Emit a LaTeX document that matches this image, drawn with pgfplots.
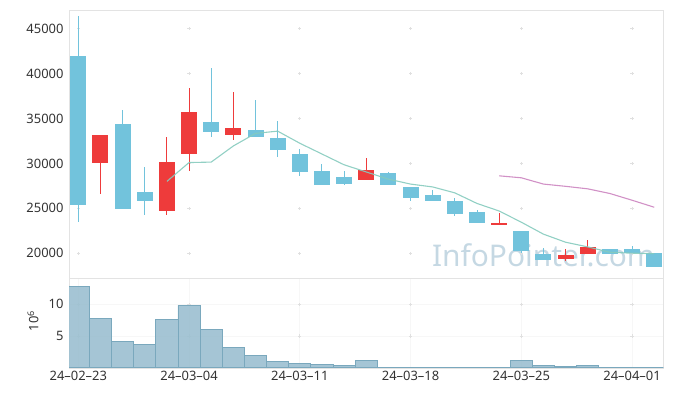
\documentclass[border=0pt]{standalone}
\usepackage{fontspec}
\setmainfont{Noto Sans}
\usepackage{pgfplots}
\usepackage{pgfplotstable}
\pgfplotsset{compat=1.18}
\definecolor{upc}{HTML}{EE3B3B}
\definecolor{dnc}{HTML}{72C3DC}
\definecolor{mafive}{HTML}{86CBBE}
\definecolor{matwenty}{HTML}{CC85C0}
\definecolor{volf}{HTML}{9BBFD0}
\definecolor{vole}{HTML}{7AA8BD}
\definecolor{wm}{HTML}{C5D8E3}
\definecolor{frm}{HTML}{E3E3E3}
\definecolor{lab}{HTML}{333333}

\pgfplotstableread{
x o h l c
1 30100 33200 26600 33200
4 24650 32950 24200 30200
5 31050 38400 29200 35750
7 33200 37950 32650 34000
13 28150 30600 28150 29300
19 23200 24450 23200 23350
22 19350 20450 19150 19850
23 19900 21500 19900 20700
}\up

\pgfplotstableread{
x o h l c
0 42000 46450 23450 25400
2 34400 35950 24950 24950
3 26850 29600 24200 25850
6 34650 40600 33000 33450
8 33750 37100 33000 33000
9 32850 34700 30700 31500
10 31050 31650 28650 29050
11 29150 29950 27550 27550
12 28500 29150 27550 27750
14 28900 29100 27550 27550
15 27400 27400 25850 26200
16 26500 27000 25850 25850
17 25850 26150 24100 24400
18 24600 24850 23400 23400
20 22500 22500 20000 20200
21 19900 20550 19200 19200
24 20450 20450 19900 19900
25 20450 20850 20000 20000
26 20000 20000 18500 18500
}\down

\pgfplotstableread{
x v
0 12.85
1 7.75
2 4.15
3 3.7
4 7.65
5 9.85
6 6.0
7 3.15
8 1.9
9 1.0
10 0.65
11 0.45
12 0.35
13 1.1
14 0.05
15 0.03
16 0.03
17 0.03
18 0.03
19 0.03
20 1.2
21 0.35
22 0.2
23 0.4
24 0.05
25 0.05
26 0.05
}\vol

\begin{document}
\begin{tikzpicture}
\useasboundingbox (0,0) rectangle (673bp,-396bp);
\pgfplotsset{
  common/.style={
    scale only axis, width=594.3bp,
    xmin=-0.42, xmax=26.41,
    xtick={0,5,...,25},
    axis line style={draw=frm},
    major tick length=0pt,
    tick style={draw=none},
    ticklabel style={font=\fontsize{13}{15}\selectfont, text=lab},
    yticklabel style={xshift=-2bp},
    /pgf/number format/assume math mode=true,
    /pgf/number format/1000 sep={},
    scaled y ticks=false,
  },
  candle/.style 2 args={only marks, mark=*, mark options={draw=none, fill=none, opacity=0}, forget plot,
    error bars/.cd, y dir=both, y explicit, error mark=none,
    error bar style={line width=#1, draw=#2}},
  cross/.style 2 args={only marks, mark=*, mark options={draw=none, fill=none, opacity=0}, forget plot,
    error bars/.cd, x dir=both, x fixed=0.072, y dir=both, y fixed=#1, error mark=none,
    error bar style={line width=0.8bp, draw=#2}},
}
\begin{axis}[common, at={(69bp,-10bp)}, anchor=north west,
  height=268.3bp, ymin=17200, ymax=47100,
  xticklabels={}, ytick={20000,25000,...,45000}]
\node[anchor=base east, inner sep=0pt, font=\fontsize{30}{34}\selectfont, text=wm] at (axis cs:26.04,18470) {InfoPointer.com};
\addplot[cross={178}{black!12}] coordinates {
(0,20000)(5,20000)(10,20000)(15,20000)(20,20000)(25,20000)
(0,25000)(5,25000)(10,25000)(15,25000)(20,25000)(25,25000)
(0,30000)(5,30000)(10,30000)(15,30000)(20,30000)(25,30000)
(0,35000)(5,35000)(10,35000)(15,35000)(20,35000)(25,35000)
(0,40000)(5,40000)(10,40000)(15,40000)(20,40000)(25,40000)
(0,45000)(5,45000)(10,45000)(15,45000)(20,45000)(25,45000)};
% wicks
\addplot[candle={1bp}{dnc}]
  table[x=x, y expr={(\thisrow{h}+\thisrow{l})/2}, y error expr={(\thisrow{h}-\thisrow{l})/2}] {\down};
\addplot[candle={1bp}{upc}]
  table[x=x, y expr={(\thisrow{h}+\thisrow{l})/2}, y error expr={(\thisrow{h}-\thisrow{l})/2}] {\up};
% bodies
\addplot[candle={16bp}{dnc}]
  table[x=x, y expr={(\thisrow{o}+\thisrow{c})/2}, y error expr={abs(\thisrow{o}-\thisrow{c})/2}] {\down};
\addplot[candle={16bp}{upc}]
  table[x=x, y expr={(\thisrow{o}+\thisrow{c})/2}, y error expr={abs(\thisrow{o}-\thisrow{c})/2}] {\up};
% moving averages
\addplot[mafive, line width=1.1bp, mark=none, opacity=0.9] coordinates {
(4,28000)(5,30100)(6,30150)(7,31950)(8,33350)(9,33600)(10,32250)(11,31050)(12,29850)
(13,29050)(14,28250)(15,27700)(16,27380)(17,26720)(18,25540)(19,24700)(20,23450)
(21,22120)(22,21220)(23,20700)(24,20100)(25,20000)(26,19950)};
\addplot[matwenty, line width=1.1bp, mark=none, opacity=0.9] coordinates {
(19,28620)(20,28400)(21,27700)(22,27450)(23,27170)(24,26650)(25,25900)(26,25120)};
\end{axis}

\begin{axis}[common, at={(69bp,-278.3bp)}, anchor=north west,
  height=89.4bp, ymin=0, ymax=14.1, ytick={5,10},
  xticklabels={24\textendash02\textendash23,24\textendash03\textendash04,24\textendash03\textendash11,24\textendash03\textendash18,24\textendash03\textendash25,24\textendash04\textendash01},
  xmajorgrids, ymajorgrids, grid style={draw=black!3, line width=0.8bp}]
\addplot[cross={0.25}{black!12}] coordinates {
(0,5)(5,5)(10,5)(15,5)(20,5)(25,5)(0,10)(5,10)(10,10)(15,10)(20,10)(25,10)};
\addplot[ybar, bar width=22.15bp, bar shift=0pt, fill=volf, draw=vole, fill opacity=0.9, line width=0.8bp]
  table[x=x, y=v] {\vol};
\end{axis}
\node[rotate=90, font=\fontsize{13}{15}\selectfont, text=lab] at (33bp,-321bp) {10\textsuperscript{6}};
\end{tikzpicture}
\end{document}
